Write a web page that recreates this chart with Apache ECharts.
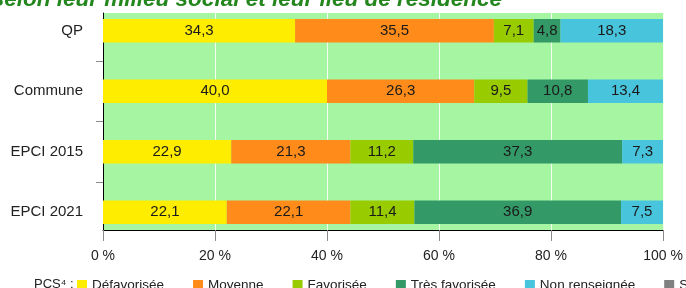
<!DOCTYPE html>
<html>
<head>
<meta charset="utf-8">
<script src="https://cdn.jsdelivr.net/npm/echarts@6/dist/echarts.min.js"></script>
<style>
  html, body { margin: 0; padding: 0; background: #fff; }
  #chart { width: 686px; height: 288px; }
</style>
</head>
<body>
<div id="chart"></div>
<script>
// données
var categories = ['QP', 'Commune', 'EPCI 2015', 'EPCI 2021'];
var seriesNames = ['Défavorisée', 'Moyenne', 'Favorisée', 'Très favorisée', 'Non renseignée', 'Sans objet'];
var defavorisee = [34.3, 40.0, 22.9, 22.1];
var moyenne = [35.5, 26.3, 21.3, 22.1];
var favorisee = [7.1, 9.5, 11.2, 11.4];
var tresFavorisee = [4.8, 10.8, 37.3, 36.9];
var nonRenseignee = [18.3, 13.4, 7.3, 7.5];
var sansObjet = [0, 0, 0, 0];
var xTicks = [0, 20, 40, 60, 80, 100];
var colors = ['#ffed00', '#ff8c1a', '#99cc00', '#339966', '#48c4dd', '#808080'];

var FONT = '"Liberation Sans", Arial, sans-serif';
var chart = echarts.init(document.getElementById('chart'));

var values = [defavorisee, moyenne, favorisee, tresFavorisee, nonRenseignee, sansObjet];
var series = values.map(function (data, i) {
  return {
    name: seriesNames[i],
    type: 'bar',
    stack: 'total',
    xAxisIndex: 1,
    yAxisIndex: 1,
    barWidth: 23.5,
    itemStyle: { color: colors[i] },
    label: {
      show: i < 5,
      position: 'inside',
      color: '#1a1a1a',
      fontFamily: FONT,
      fontSize: 15,
      formatter: function (p) { return p.value ? p.value.toFixed(1).replace('.', ',') : ''; }
    },
    data: data
  };
});

chart.setOption({
  animation: false,
  textStyle: { fontFamily: FONT },
  grid: [
    { left: 103, width: 560, top: 13, height: 217, show: true, backgroundColor: '#a5f5a3', borderWidth: 0 },
    { left: 103, width: 560, top: 0.5, height: 242 }
  ],
  xAxis: [
    {
      gridIndex: 0, type: 'value', min: xTicks[0], max: xTicks[xTicks.length - 1], interval: 20,
      axisLine: { show: true, onZero: false, lineStyle: { color: '#000', width: 1 } },
      axisTick: { show: true, length: 11, lineStyle: { color: '#8c8c8c' } },
      axisLabel: { margin: 19, fontSize: 14, color: '#222', fontFamily: FONT,
        formatter: function (v) { return v + ' %'; } },
      splitLine: { show: true, lineStyle: { color: '#f4fff2', width: 1 } }
    },
    { gridIndex: 1, type: 'value', min: 0, max: 100, show: false }
  ],
  yAxis: [
    {
      gridIndex: 0, type: 'value', inverse: true, min: -0.3, max: 3.3,
      axisLine: { show: true, lineStyle: { color: '#000', width: 1 } },
      axisTick: { show: true, length: 7, customValues: [0.5, 1.5, 2.5], lineStyle: { color: '#8c8c8c' } },
      axisLabel: { show: false },
      splitLine: { show: false }
    },
    {
      gridIndex: 1, type: 'category', inverse: true, data: categories,
      axisLine: { show: false }, axisTick: { show: false },
      axisLabel: { margin: 20, fontSize: 15, color: '#222', fontFamily: FONT }
    }
  ],
  legend: {
    data: seriesNames,
    left: 77, top: 278, width: 1000, padding: 0,
    icon: 'rect', itemWidth: 10, itemHeight: 10, itemGap: 29,
    textStyle: { fontSize: 13.5, color: '#222', fontFamily: FONT }
  },
  graphic: [
    { type: 'text', left: 34, top: 278,
      style: { text: 'PCS⁴ :', font: '13px ' + FONT, fill: '#222' } },
    { type: 'text', x: 502, y: -0.5,
      style: { text: 'selon leur milieu social et leur lieu de résidence', align: 'right',
        verticalAlign: 'middle', font: 'italic bold 22.5px ' + FONT, fill: '#23871e' } }
  ],
  series: series
});
</script>
</body>
</html>
